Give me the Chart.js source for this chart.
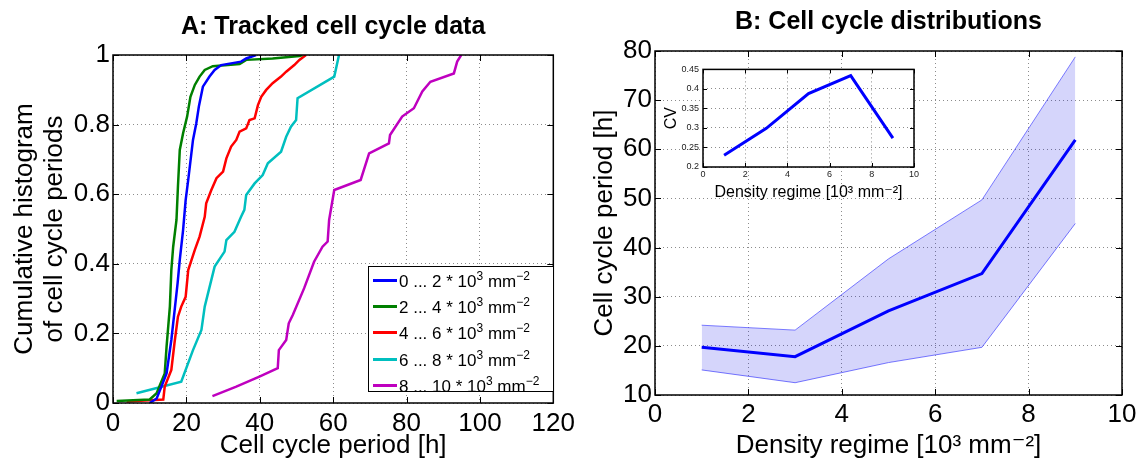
<!DOCTYPE html>
<html>
<head>
<meta charset="utf-8">
<title>Cell cycle periods</title>
<script src="https://cdn.jsdelivr.net/npm/chart.js@4.4.0/dist/chart.umd.min.js"></script>
<style>
  body { margin: 0; background: #fff; }
  #wrap { position: relative; width: 1142px; height: 461px; overflow: hidden;
          font-family: "Liberation Sans", Arial, "DejaVu Sans", sans-serif; }
  canvas { position: absolute; }
  #chartA { left: 0; top: 0; }
  #chartB { left: 580px; top: 0; }
  #inset { left: 660px; top: 60px; }
  #legendA { position: absolute; left: 368px; top: 266px; width: 186px; height: 126px;
             box-sizing: border-box; border: 1px solid #000; background: #fff;
             font-size: 17px; color: #000; padding-top: 0; }
  #legendA .row { height: 26.4px; display: flex; align-items: center; white-space: nowrap; }
  #legendA .swatch { display: inline-block; width: 24px; height: 3px; margin: 0 2px 0 4px; flex: none; }
  #legendA .txt { display: inline-block; line-height: 26px; padding-top: 3px; }
  #legendA sup { font-size: 12px; vertical-align: 7px; line-height: 0; }
</style>
</head>
<body>
<div id="wrap">
  <canvas id="chartA" width="580" height="461"></canvas>
  <canvas id="chartB" width="562" height="461"></canvas>
  <canvas id="inset" width="262" height="146"></canvas>
  <div id="legendA"></div>
</div>
<script>
// -------------------------
// Data
// -------------------------

// Panel A: cumulative histograms, one per density regime
const regimeLabels = ["0 ... 2", "2 ... 4", "4 ... 6", "6 ... 8", "8 ... 10"];

const period0to2 = [10, 11.9, 13.2, 14.6, 15.9, 16.8, 17.6, 18.2, 19.1, 19.8, 20.5, 21.8, 22.7, 23.4, 24.5, 26.3, 27.7, 29.5, 34.9, 36.3, 39];
const cum0to2    = [0, 0.013, 0.047, 0.085, 0.181, 0.267, 0.344, 0.411, 0.497, 0.583, 0.641, 0.756, 0.804, 0.852, 0.909, 0.938, 0.957, 0.971, 0.981, 0.99, 1];

const period2to4 = [1, 10, 11.9, 12.8, 14.1, 14.6, 15.5, 15.9, 16.4, 17.3, 17.7, 18.2, 19.1, 20.2, 21.1, 22.3, 23.6, 25, 27.2, 34.5, 36.3, 43.5, 50.8, 51.6];
const cum2to4    = [0.006, 0.01, 0.028, 0.052, 0.085, 0.162, 0.277, 0.382, 0.449, 0.526, 0.622, 0.727, 0.775, 0.823, 0.88, 0.914, 0.938, 0.957, 0.968, 0.974, 0.986, 0.99, 0.997, 1];

const period4to6 = [3.7, 13.7, 14.1, 15.9, 16.8, 17.7, 18.6, 19.8, 20.5, 22.3, 23.6, 25, 25.4, 26.8, 28.2, 30, 30.9, 32.2, 33.6, 34.5, 36.3, 37.2, 38.6, 39.5, 40.4, 41.7, 43.5, 45.8, 47.2, 49.4, 50.8, 52.6];
const cum4to6    = [0.004, 0.01, 0.047, 0.095, 0.176, 0.248, 0.277, 0.305, 0.382, 0.44, 0.478, 0.535, 0.574, 0.612, 0.646, 0.665, 0.703, 0.737, 0.756, 0.78, 0.789, 0.813, 0.818, 0.856, 0.88, 0.899, 0.919, 0.938, 0.952, 0.971, 0.986, 1];

const period6to8 = [6.4, 18.6, 21.8, 24.1, 25, 27.7, 30.4, 30.9, 33.1, 34.9, 35.8, 36.3, 38.6, 40.8, 42.2, 45.8, 47.2, 48.5, 49.9, 50.3, 60.3, 61.6];
const cum6to8    = [0.028, 0.061, 0.152, 0.21, 0.277, 0.392, 0.435, 0.468, 0.492, 0.535, 0.555, 0.598, 0.631, 0.655, 0.689, 0.722, 0.765, 0.794, 0.813, 0.876, 0.938, 1];

const period8to10 = [27.1, 33.6, 39.9, 44.9, 45.2, 47.2, 47.9, 49, 52.1, 54.8, 57.1, 58.5, 58.9, 60.3, 67.5, 69.8, 75.2, 75.5, 78.8, 82, 84.3, 86.5, 92.9, 93.8, 94.9];
const cum8to10    = [0.02, 0.047, 0.076, 0.1, 0.152, 0.181, 0.229, 0.253, 0.33, 0.406, 0.449, 0.464, 0.526, 0.612, 0.641, 0.717, 0.746, 0.77, 0.823, 0.847, 0.895, 0.923, 0.947, 0.981, 1];

const aTicksX = ["0", "20", "40", "60", "80", "100", "120"];
const aTicksY = ["0", "0.2", "0.4", "0.6", "0.8", "1"];

// Panel B: period per density regime (mean and spread)
const densityRegime = [1, 3, 5, 7, 9];
const periodMean  = [19.7, 17.8, 27.1, 34.7, 61.9];
const periodUpper = [24.2, 23.2, 37.7, 49.7, 78.8];
const periodLower = [15.1, 12.5, 16.6, 19.7, 44.9];

const bTicksX = ["0", "2", "4", "6", "8", "10"];
const bTicksY = ["10", "20", "30", "40", "50", "60", "70", "80"];

// Inset: coefficient of variation
const cvValues = [0.230, 0.299, 0.388, 0.434, 0.274];
const insetTicksX = ["0", "2", "4", "6", "8", "10"];
const insetTicksY = ["0.2", "0.25", "0.3", "0.35", "0.4", "0.45"];

// -------------------------
// Styling
// -------------------------
const FONT = '"Liberation Sans", Arial, "DejaVu Sans", sans-serif';
const regimeColors = ["#0000ff", "#008000", "#ff0000", "#00bfbf", "#bf00bf"];

function toPoints(xs, ys) {
    return xs.map((x, i) => ({ x: x, y: ys[i] }));
}

// Matlab-like box with inward tick marks; optional white plot background
const matlabBox = {
    id: "matlabBox",
    beforeDraw(chart, args, opts) {
        if (!opts.fillArea) return;
        const a = chart.chartArea;
        chart.ctx.save();
        chart.ctx.fillStyle = "#fff";
        chart.ctx.fillRect(a.left, a.top, a.right - a.left, a.bottom - a.top);
        chart.ctx.restore();
    },
    afterDatasetsDraw(chart, args, opts) {
        const { ctx, chartArea: a, scales } = chart;
        const len = opts.tickLength || 5;
        ctx.save();
        ctx.strokeStyle = "#000";
        ctx.lineWidth = 1;
        ctx.beginPath();
        scales.x.ticks.forEach(t => {
            const px = Math.round(scales.x.getPixelForValue(t.value)) + 0.5;
            ctx.moveTo(px, a.bottom); ctx.lineTo(px, a.bottom - len);
            ctx.moveTo(px, a.top);    ctx.lineTo(px, a.top + len);
        });
        scales.y.ticks.forEach(t => {
            const py = Math.round(scales.y.getPixelForValue(t.value)) + 0.5;
            ctx.moveTo(a.left, py);  ctx.lineTo(a.left + len, py);
            ctx.moveTo(a.right, py); ctx.lineTo(a.right - len, py);
        });
        ctx.stroke();
        ctx.lineWidth = opts.boxWidth || 1.5;
        ctx.strokeRect(a.left, a.top, a.right - a.left, a.bottom - a.top);
        ctx.restore();
    }
};

function gridOpts() {
    return { color: "#8c8c8c", lineWidth: 1, drawTicks: false };
}
function borderOpts() {
    return { display: false, dash: [1, 3] };
}

// -------------------------
// 1. Panel A
// -------------------------
function drawPanelA() {
    const series = [
        [period0to2, cum0to2],
        [period2to4, cum2to4],
        [period4to6, cum4to6],
        [period6to8, cum6to8],
        [period8to10, cum8to10]
    ];

    new Chart(document.getElementById("chartA"), {
        type: "line",
        data: {
            datasets: series.map((s, i) => ({
                label: regimeLabels[i],
                data: toPoints(s[0], s[1]),
                borderColor: regimeColors[i],
                borderWidth: 2.5,
                pointRadius: 0,
                tension: 0,
                fill: false
            }))
        },
        options: {
            responsive: false,
            animation: false,
            layout: { padding: { right: 25 } },
            plugins: {
                legend: { display: false },
                tooltip: { enabled: false },
                title: {
                    display: true,
                    fullSize: false,
                    text: "A: Tracked cell cycle data",
                    color: "#000",
                    font: { family: FONT, size: 25, weight: "bold", lineHeight: 1.2 },
                    padding: { top: 12, bottom: 13 }
                },
                matlabBox: { tickLength: 6, boxWidth: 1.5 }
            },
            scales: {
                x: {
                    type: "linear", min: 0, max: 120,
                    ticks: { stepSize: 20, color: "#000", padding: 5,
                             font: { family: FONT, size: 26 },
                             callback: (v, i) => aTicksX[i] },
                    grid: gridOpts(), border: borderOpts(),
                    title: { display: true, text: "Cell cycle period [h]", color: "#000",
                             font: { family: FONT, size: 26, lineHeight: 1.15 },
                             padding: { top: 0, bottom: 0 } },
                    afterFit: s => { s.height = 58; }
                },
                y: {
                    type: "linear", min: 0, max: 1,
                    ticks: { stepSize: 0.2, color: "#000", padding: 3,
                             font: { family: FONT, size: 26 },
                             callback: (v, i) => aTicksY[i] },
                    grid: gridOpts(), border: borderOpts(),
                    title: { display: true, text: ["Cumulative histogram", "of cell cycle periods"],
                             color: "#000", font: { family: FONT, size: 26, lineHeight: 1.15 },
                             padding: { top: 10, bottom: 0 } },
                    afterFit: s => { s.width = 113; }
                }
            }
        },
        plugins: [matlabBox]
    });
}

function buildLegendA() {
    const box = document.getElementById("legendA");
    regimeLabels.forEach((lab, i) => {
        const row = document.createElement("div");
        row.className = "row";
        row.innerHTML = `<span class="swatch" style="background:${regimeColors[i]}"></span>` +
            `<span class="txt">${lab} * 10<sup>3</sup> mm<sup>\u22122</sup></span>`;
        box.appendChild(row);
    });
}

// -------------------------
// 2. Panel B
// -------------------------
function drawPanelB() {
    new Chart(document.getElementById("chartB"), {
        type: "line",
        data: {
            datasets: [
                { label: "mean", data: toPoints(densityRegime, periodMean),
                  borderColor: "#0000ff", borderWidth: 3, pointRadius: 0, tension: 0, fill: false },
                { label: "upper", data: toPoints(densityRegime, periodUpper),
                  borderColor: "rgba(80,80,255,0.75)", borderWidth: 1, pointRadius: 0, tension: 0,
                  fill: "+1", backgroundColor: "rgba(0,0,230,0.165)" },
                { label: "lower", data: toPoints(densityRegime, periodLower),
                  borderColor: "rgba(80,80,255,0.75)", borderWidth: 1, pointRadius: 0, tension: 0, fill: false }
            ]
        },
        options: {
            responsive: false,
            animation: false,
            layout: { padding: { right: 20 } },
            plugins: {
                legend: { display: false },
                tooltip: { enabled: false },
                title: {
                    display: true,
                    fullSize: false,
                    text: "B: Cell cycle distributions",
                    color: "#000",
                    font: { family: FONT, size: 25, weight: "bold", lineHeight: 1.2 },
                    padding: { top: 7, bottom: 14 }
                },
                matlabBox: { tickLength: 6, boxWidth: 1.5 }
            },
            scales: {
                x: {
                    type: "linear", min: 0, max: 10,
                    ticks: { stepSize: 2, color: "#000", padding: 4,
                             font: { family: FONT, size: 26 },
                             callback: (v, i) => bTicksX[i] },
                    grid: gridOpts(), border: borderOpts(),
                    title: { display: true, text: "Density regime [10\u00b3 mm\u207b\u00b2]", color: "#000",
                             font: { family: FONT, size: 26, lineHeight: 1.15 },
                             padding: { top: 0, bottom: 0 } },
                    afterFit: s => { s.height = 66; }
                },
                y: {
                    type: "linear", min: 10, max: 80,
                    ticks: { stepSize: 10, color: "#000", padding: 3,
                             font: { family: FONT, size: 26 },
                             callback: (v, i) => bTicksY[i] },
                    grid: gridOpts(), border: borderOpts(),
                    title: { display: true, text: "Cell cycle period [h]", color: "#000",
                             font: { family: FONT, size: 26, lineHeight: 1.15 },
                             padding: { top: 10, bottom: 0 } },
                    afterFit: s => { s.width = 75; }
                }
            }
        },
        plugins: [matlabBox]
    });
}

// -------------------------
// 3. Inset (CV)
// -------------------------
function drawInset() {
    new Chart(document.getElementById("inset"), {
        type: "line",
        data: {
            datasets: [{
                label: "CV",
                data: toPoints(densityRegime, cvValues),
                borderColor: "#0000ff", borderWidth: 3, pointRadius: 0, tension: 0, fill: false
            }]
        },
        options: {
            responsive: false,
            animation: false,
            layout: { padding: { top: 8, right: 8 } },
            plugins: {
                legend: { display: false },
                tooltip: { enabled: false },
                matlabBox: { tickLength: 4, boxWidth: 1.5, fillArea: true }
            },
            scales: {
                x: {
                    type: "linear", min: 0, max: 10,
                    ticks: { stepSize: 2, color: "#222", padding: 2,
                             font: { family: FONT, size: 9 },
                             callback: (v, i) => insetTicksX[i] },
                    grid: gridOpts(), border: borderOpts(),
                    title: { display: true, text: "Density regime [10\u00b3 mm\u207b\u00b2]", color: "#000",
                             font: { family: FONT, size: 16, lineHeight: 1.15 },
                             padding: { top: 0, bottom: 4 } },
                    afterFit: s => { s.height = 39; }
                },
                y: {
                    type: "linear", min: 0.2, max: 0.45,
                    ticks: { stepSize: 0.05, color: "#222", padding: 4,
                             font: { family: FONT, size: 9 },
                             callback: (v, i) => insetTicksY[i] },
                    grid: gridOpts(), border: borderOpts(),
                    title: { display: true, text: "CV", color: "#000",
                             font: { family: FONT, size: 16, lineHeight: 1.15 },
                             padding: { top: 2, bottom: 0 } },
                    afterFit: s => { s.width = 43; }
                }
            }
        },
        plugins: [matlabBox]
    });
}

// -------------------------
// On DOM load
// -------------------------
document.addEventListener("DOMContentLoaded", () => {
    drawPanelA();
    buildLegendA();
    drawPanelB();
    drawInset();
});
</script>
</body>
</html>
